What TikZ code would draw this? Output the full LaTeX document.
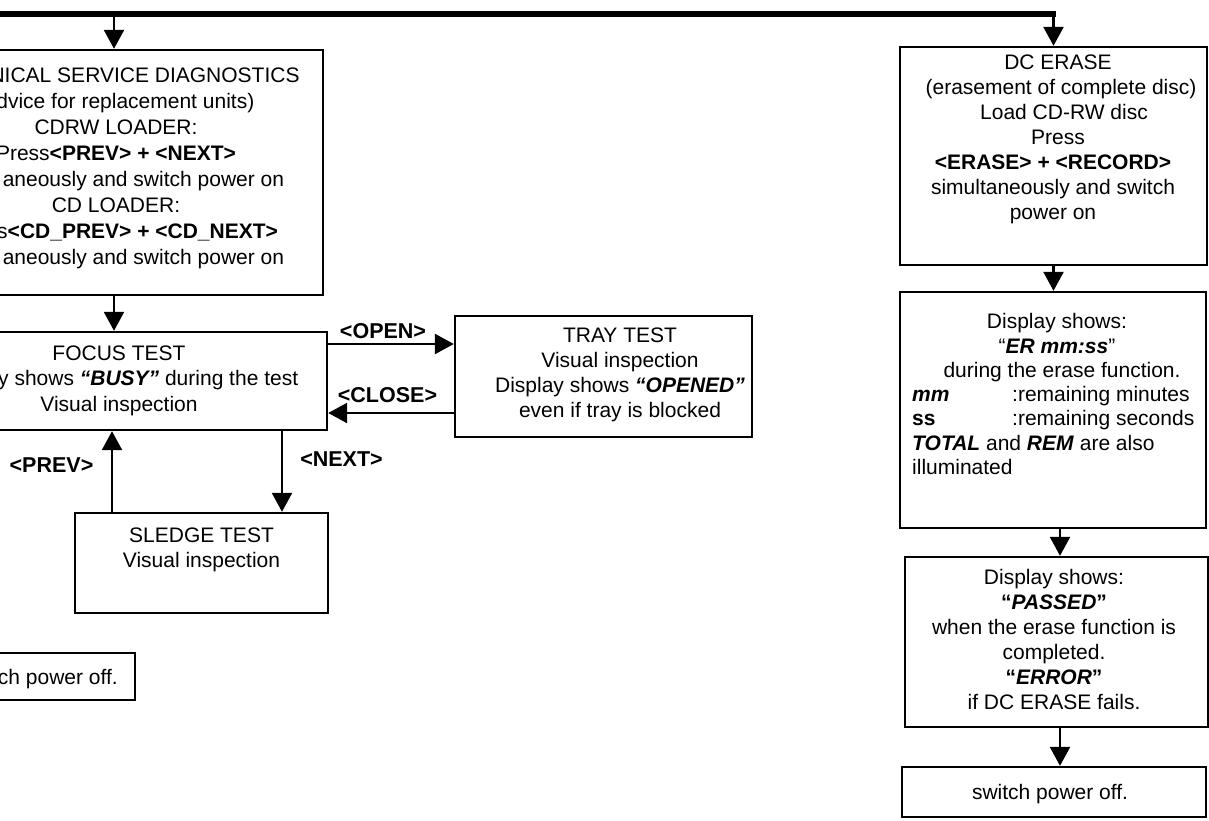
\documentclass[tikz,border=0pt]{standalone}
\usepackage{fontspec}
\setmainfont{Liberation Sans}
\usetikzlibrary{arrows.meta}
\newcommand\bfit[1]{\textbf{\textit{#1}}}
\begin{document}
\begin{tikzpicture}[x=1pt,y=-1pt,
  box/.style={draw, line width=2.4pt, inner sep=0pt},
  txt/.style={font=\fontsize{21}{25}\selectfont, align=center, inner sep=0pt},
  lbl/.style={font=\fontsize{21.5}{25}\selectfont\bfseries, inner sep=0pt},
  arr/.style={line width=2.4pt, -{Triangle[length=19pt,width=20pt]}},
  bus/.style={line width=6pt}]
\useasboundingbox (0,0) rectangle (1209,820);
\clip (0,0) rectangle (1209,820);
% boxes
\node[box, minimum width=418pt, minimum height=245pt] (svc) at (114,172.5) {};
\node[box, minimum width=418pt, minimum height=98pt] (focus) at (118,381) {};
\node[box, minimum width=297pt, minimum height=121pt] (tray) at (603.5,376.5) {};
\node[box, minimum width=253pt, minimum height=100pt] (sledge) at (201.5,563) {};
\node[box, minimum width=304pt, minimum height=47pt] (swL) at (-17,676.5) {};
\node[box, minimum width=307pt, minimum height=218pt] (dc) at (1053.5,156) {};
\node[box, minimum width=306pt, minimum height=236pt] (disp) at (1053,410) {};
\node[box, minimum width=303pt, minimum height=170pt] (pass) at (1056.5,642) {};
\node[box, minimum width=304pt, minimum height=50pt] (swR) at (1054,792) {};
% texts
\node[txt, font=\fontsize{21}{26}\selectfont] (svcT) at (116,168) {\phantom{TECH}NICAL SERVICE DIAGNOSTICS\\
\phantom{(a}dvice for replacement units)\\
CDRW LOADER:\\
Press\textbf{<PREV> + <NEXT>}\\
\phantom{simult}aneously and switch power on\\
CD LOADER:\\
\phantom{Pres}s\textbf{<CD\_PREV> + <CD\_NEXT>}\\
\phantom{simult}aneously and switch power on};
\node[txt, font=\fontsize{21}{25.5}\selectfont] (focusT) at (119,380.7) {FOCUS TEST\\
\phantom{Displa}y shows \bfit{“BUSY”} during the test\\
Visual inspection};
\node[txt] (trayT) at (620,374.7) {TRAY TEST\\ Visual inspection\\ Display shows \bfit{“OPENED”}\\ even if tray is blocked};
\node[txt] (sledgeT) at (201.5,549.7) {SLEDGE TEST\\ Visual inspection};
\node[txt, anchor=east] (swLT) at (118,678.7) {ch power off.};
\node[txt] (dcT) at (1053,139.2) {\hspace*{10pt}DC ERASE\\
\hspace*{16pt}(erasement of complete disc)\\
\hspace*{22pt}Load CD-RW disc\\
\hspace*{10pt}Press\\
\textbf{<ERASE> + <RECORD>}\hspace*{12pt}\\
simultaneously and switch\hspace*{10pt}\\
power on};
\node[txt, font=\fontsize{21}{24.5}\selectfont] (dispT) at (1057,347.7) {Display shows:\\ “\bfit{ER mm:ss}”\\ \hspace*{10pt}during the erase function.};
\node[txt, font=\fontsize{21}{24.5}\selectfont, align=left, anchor=west] (dispB) at (912,430.5) {\makebox[100pt][l]{\bfit{mm}}:remaining minutes\\
\makebox[100pt][l]{\textbf{ss}}:remaining seconds\\
\bfit{TOTAL} and \bfit{REM} are also\\
illuminated};
\node[txt] (passT) at (1054,639.5) {Display shows:\\ \textbf{“\textit{PASSED}”}\\ when the erase function is\\ completed.\\ \textbf{“\textit{ERROR}”}\\ if DC ERASE fails.};
\node[txt] (swRT) at (1050,794) {switch power off.};
% labels
\node[lbl] (openL) at (383,331) {<OPEN>};
\node[lbl] (closeL) at (387.5,395) {<CLOSE>};
\node[lbl] (prevL) at (51.5,465) {<PREV>};
\node[lbl] (nextL) at (341.5,459) {<NEXT>};
% helper coordinates
\coordinate (ytop) at (0,14);
\coordinate (busstart) at (-5,14);
\coordinate (yopen) at (0,344);
\coordinate (yclose) at (0,413);
\coordinate (xprev) at (112,0);
\coordinate (xnext) at (282,0);
\coordinate (xr) at (1060,0);
% connectors
\draw[bus] (busstart) -- ([xshift=2pt]dc.north |- ytop);
\draw[arr] (svc.north |- ytop) -- (svc.north);
\draw[arr] (dc.north |- ytop) -- (dc.north);
\draw[arr] (svc.south) -- (svc.south |- focus.north);
\draw[arr] (focus.east |- yopen) -- (tray.west |- yopen);
\draw[arr] (tray.west |- yclose) -- (focus.east |- yclose);
\draw[arr] (xprev |- sledge.north) -- (xprev |- focus.south);
\draw[arr] (xnext |- focus.south) -- (xnext |- sledge.north);
\draw[arr] (dc.south) -- (dc.south |- disp.north);
\draw[arr] (xr |- disp.south) -- (xr |- pass.north);
\draw[arr] (xr |- pass.south) -- (xr |- swR.north);
\end{tikzpicture}
\end{document}
